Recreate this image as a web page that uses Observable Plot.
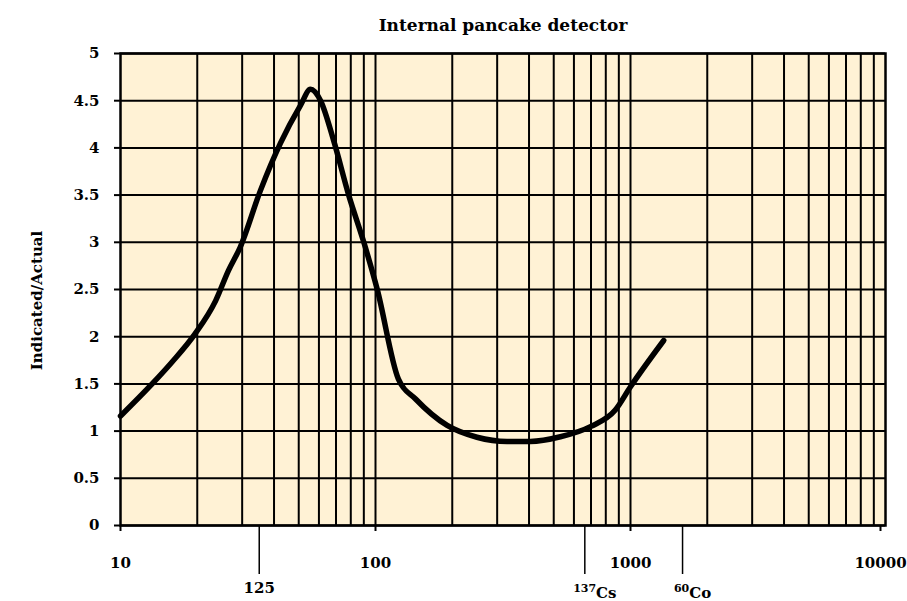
<!DOCTYPE html>
<html>
<head>
<meta charset="utf-8">
<script src="https://cdn.jsdelivr.net/npm/d3@7"></script>
<script src="https://cdn.jsdelivr.net/npm/@observablehq/plot@0.6"></script>
<style>
  html, body { margin: 0; padding: 0; background: #ffffff; }
  #chart { width: 907px; height: 601px; }
</style>
</head>
<body>
<div id="chart"></div>
<script>
// Photon energy (keV) and Indicated/Actual response
const energyKeV = [10, 13.3, 15.9, 19.6, 23.6, 26.5, 29.5, 35.4, 42.4, 50.8, 55.6, 60.9, 68.5, 78.5, 90, 101.6, 123, 143.6, 191, 250, 328, 405, 531, 700, 870, 1000, 1350];
const response  = [1.16, 1.5, 1.73, 2.03, 2.38, 2.7, 2.95, 3.55, 4.05, 4.45, 4.62, 4.5, 4.08, 3.5, 3.0, 2.5, 1.55, 1.34, 1.06, 0.935, 0.89, 0.89, 0.94, 1.05, 1.22, 1.47, 1.96];

// Axis ticks / grid
const yTicks = [0, 0.5, 1, 1.5, 2, 2.5, 3, 3.5, 4, 4.5, 5];
const decadeTicks = [10, 100, 1000];
const lastDecadeTick = [10000];
const gridX = [20, 30, 40, 50, 60, 70, 80, 90, 100, 200, 300, 400, 500, 600, 700, 800, 900, 1000, 2000, 3000, 4000, 5000, 6000, 7000, 8000, 9000];

// Source energy markers (keV): label mass number and element symbol
const markerEnergy = [35, 662, 1600];
const markerMass = ["125", "137", "60"];
const markerElement = ["", "Cs", "Co"];

const title = "Internal pancake detector";
const yLabel = "Indicated/Actual";

const curve = energyKeV.map((e, i) => ({energy: e, ratio: response[i]}));
const markers = markerEnergy.map((e, i) => ({energy: e, mass: markerMass[i], element: markerElement[i], label: markerMass[i] + markerElement[i]}));
const plainMarkers = markers.filter(d => d.element === "");
const isotopeMarkers = markers.filter(d => d.element !== "");

const chart = Plot.plot({
  width: 907,
  height: 601,
  marginLeft: 120,
  marginRight: 22,
  marginTop: 53,
  marginBottom: 76,
  style: {fontFamily: "'DejaVu Serif', serif", background: "transparent", color: "black", overflow: "visible"},
  x: {type: "log", domain: [10, 10000], axis: null},
  y: {domain: [0, 5], axis: null},
  marks: [
    Plot.frame({fill: "#fff2d5", stroke: null}),
    Plot.ruleX(gridX, {stroke: "black", strokeWidth: 2}),
    Plot.ruleY(yTicks, {stroke: "black", strokeWidth: 2}),
    Plot.frame({stroke: "black", strokeWidth: 2.5}),
    Plot.axisY(yTicks, {tickSize: 6, tickPadding: 15, strokeWidth: 2, fontSize: 15, fontWeight: "bold", tickFormat: d => String(d), label: null}),
    Plot.axisX(decadeTicks, {tickSize: 6, tickPadding: 26, strokeWidth: 2, fontSize: 15, fontWeight: "bold", tickFormat: d => String(d), label: null}),
    Plot.axisX(lastDecadeTick, {tickSize: 6, tickPadding: 26, strokeWidth: 2, fontSize: 15, fontWeight: "bold", tickFormat: d => String(d), label: null, dx: -5}),
    Plot.ruleX(markerEnergy, {y1: 0, y2: 0, insetBottom: -49, stroke: "black", strokeWidth: 1.5}),
    Plot.text(plainMarkers, {x: "energy", text: "label", frameAnchor: "bottom", lineAnchor: "middle", dy: 62.5, fontSize: 15, fontWeight: "bold"}),
    Plot.text(isotopeMarkers, {x: "energy", text: "label", frameAnchor: "bottom", lineAnchor: "middle", dy: 61.5, dx: 10, fontSize: 15, fontWeight: "bold"}),
    Plot.line(curve, {x: "energy", y: "ratio", curve: "monotone-x", stroke: "black", strokeWidth: 5.5, strokeLinejoin: "round", strokeLinecap: "round"}),
    Plot.text([title], {frameAnchor: "top", lineAnchor: "middle", dy: -28, fontSize: 17, fontWeight: "bold"}),
    Plot.text([yLabel], {frameAnchor: "left", textAnchor: "middle", lineAnchor: "middle", rotate: -90, dx: -83, dy: 11, fontSize: 15, fontWeight: "bold"})
  ]
});

// Render isotope labels with a raised mass number (real text, split into tspans)
d3.select(chart).selectAll("text").each(function() {
  const m = isotopeMarkers.find(d => d.label === this.textContent);
  if (!m) return;
  const t = d3.select(this);
  t.text(null);
  t.append("tspan").attr("font-size", 11).text(m.mass);
  t.append("tspan").attr("dy", 6).text(m.element);
});

document.getElementById("chart").appendChild(chart);
</script>
</body>
</html>
